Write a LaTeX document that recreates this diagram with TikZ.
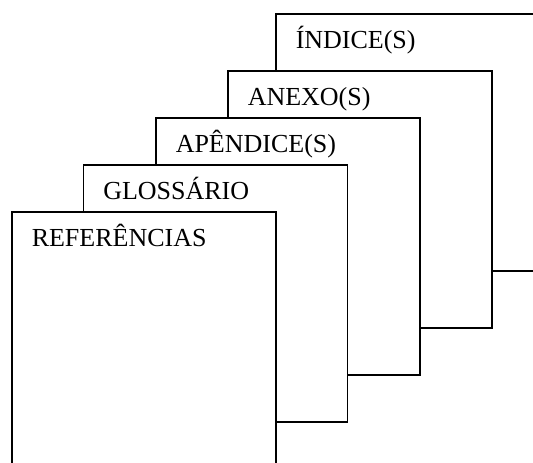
\documentclass[tikz,border=0pt]{standalone}
\usepackage{fontspec}
\setmainfont{Liberation Serif}
\usetikzlibrary{%
  shapes,%
  positioning,% wg. " of "
  calc
}

\begin{document}
\begin{tikzpicture}
  [
  x=1pt, y=-1pt, line width=1.5pt, draw=black,
  page/.style={rectangle, anchor=north west, minimum width=264pt, minimum height=257pt, inner sep=0pt, draw=black, fill=white},
  title/.style={anchor=base west, inner sep=0pt, font=\fontsize{26}{30}\selectfont}
  ]
\useasboundingbox (0,0) rectangle (533,463);
\clip (0,0) rectangle (533,463);

\foreach \p/\x/\y/\t in {5/275/13/ÍNDICE(S), 4/227/70/ANEXO(S), 3/155/117/APÊNDICE(S), 2/82.5/164/GLOSSÁRIO, 1/11/211/REFERÊNCIAS} {
  \node[page] (p\p) at (\x,\y) {};
  \node[title] (t\p) at ([xshift=20pt,yshift=-35.5pt]p\p.north west) {\t};
}
\end{tikzpicture}
\end{document}
